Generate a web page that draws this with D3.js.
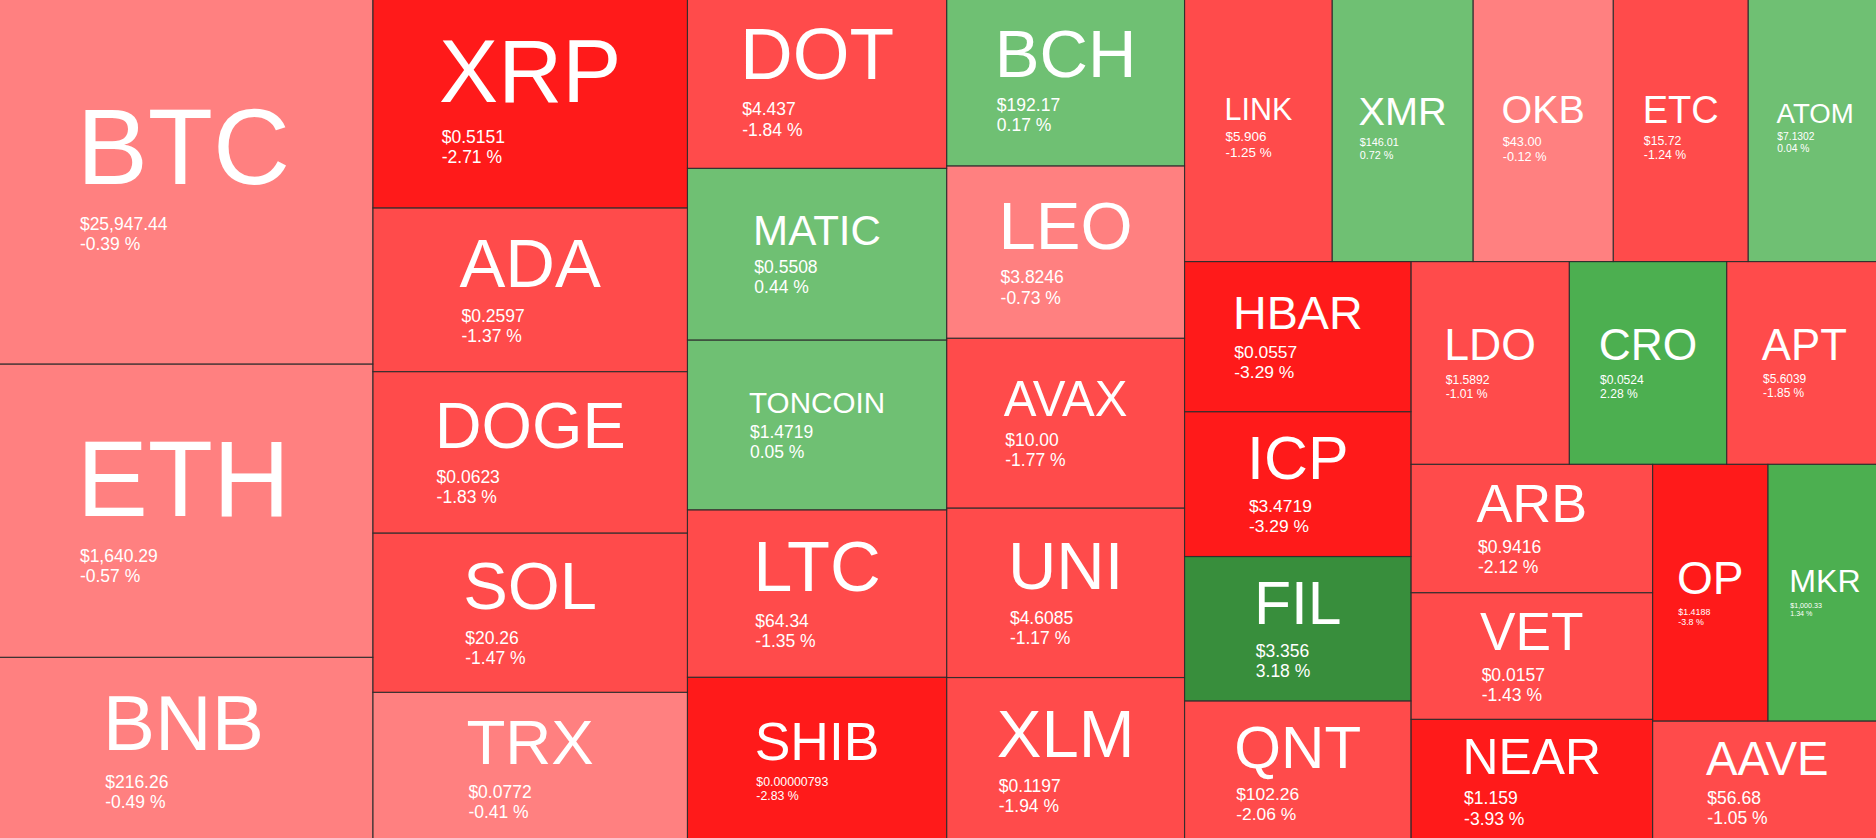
<!DOCTYPE html>
<html>
<head>
<meta charset="utf-8">
<script src="https://cdn.jsdelivr.net/npm/d3@7"></script>
<style>
  html, body { margin: 0; padding: 0; background: #ffffff; overflow: hidden; }
  svg { display: block; }
  text { font-family: "Liberation Sans", Arial, Helvetica, sans-serif; fill: #ffffff; }
</style>
</head>
<body>
<svg id="chart"></svg>
<script>
// ---- data ----
const symbols = ["BTC","ETH","BNB","XRP","ADA","DOGE","SOL","TRX","DOT","MATIC","TONCOIN","LTC","SHIB",
  "BCH","LEO","AVAX","UNI","XLM","LINK","XMR","OKB","ETC","ATOM","HBAR","ICP","FIL","QNT",
  "LDO","CRO","APT","ARB","VET","NEAR","OP","MKR","AAVE"];
const prices = ["$25,947.44","$1,640.29","$216.26","$0.5151","$0.2597","$0.0623","$20.26","$0.0772","$4.437",
  "$0.5508","$1.4719","$64.34","$0.00000793","$192.17","$3.8246","$10.00","$4.6085","$0.1197","$5.906",
  "$146.01","$43.00","$15.72","$7.1302","$0.0557","$3.4719","$3.356","$102.26","$1.5892","$0.0524",
  "$5.6039","$0.9416","$0.0157","$1.159","$1.4188","$1,000.33","$56.68"];
const changes = [-0.39,-0.57,-0.49,-2.71,-1.37,-1.83,-1.47,-0.41,-1.84,0.44,0.05,-1.35,-2.83,
  0.17,-0.73,-1.77,-1.17,-1.94,-1.25,0.72,-0.12,-1.24,0.04,-3.29,-3.29,3.18,-2.06,
  -1.01,2.28,-1.85,-2.12,-1.43,-3.93,-3.8,1.34,-1.05];
// tile weights (relative areas)
const weights = [140.2,111.1,70.7,67.3,51.5,50.8,50.1,47.7,45.2,44.5,44.0,43.4,43.2,
  40.9,41.0,40.4,40.3,39.6,39.5,37.7,37.5,36.1,35.8,34.0,32.8,32.7,32.4,
  32.1,31.9,31.5,31.0,30.6,30.1,29.6,29.3,28.2];
const colorSteps = [-2.5,-1,0,1,2.5];
const colorRange = ["#FF1A1A","#FF4B4B","#FF8080","#6FC073","#4CAF50","#388E3C"];

// ---- chart ----
const W = 1876, H = 838, BLEED = 6;
const svg = d3.select("#chart").attr("width", W).attr("height", H);

const data = symbols.map((s, i) => ({symbol: s, price: prices[i], change: changes[i], weight: weights[i]}));
const root = d3.hierarchy({children: data}).sum(d => d.weight || 0);
d3.treemap().tile(d3.treemapSquarify).size([W + 2 * BLEED, H + 2 * BLEED])(root);
const leaves = root.leaves();

const color = d3.scaleThreshold().domain(colorSteps).range(colorRange);

const g = svg.append("g").attr("transform", `translate(${-BLEED},${-BLEED})`);

g.append("g").selectAll("rect").data(leaves).join("rect")
  .attr("x", d => d.x0).attr("y", d => d.y0)
  .attr("width", d => d.x1 - d.x0).attr("height", d => d.y1 - d.y0)
  .attr("fill", d => color(d.data.change));

g.append("g").selectAll("rect").data(leaves).join("rect")
  .attr("x", d => d.x0).attr("y", d => d.y0)
  .attr("width", d => d.x1 - d.x0).attr("height", d => d.y1 - d.y0)
  .attr("fill", "none")
  .attr("stroke", "#2a2a2a")
  .attr("stroke-opacity", 0.75)
  .attr("stroke-width", 1.1);

const labels = g.append("g").selectAll("g").data(leaves).join("g");
labels.each(function(d) {
  const sel = d3.select(this);
  const w = d.x1 - d.x0, h = d.y1 - d.y0;
  const cx = (d.x0 + d.x1) / 2, cy = (d.y0 + d.y1) / 2;
  const n = d.data.symbol.length;
  const fs = Math.min(w / Math.max(2.5, 1.3 * n - 0.35), 0.42 * h);

  const sym = sel.append("text")
    .attr("x", cx).attr("text-anchor", "middle")
    .attr("font-size", fs).text(d.data.symbol);
  const adv = sym.node().getComputedTextLength();

  const price = sel.append("text").attr("font-size", 100).text(d.data.price);
  const pEm = price.node().getComputedTextLength() / 100;
  const pf = Math.min(17.5, 0.278 * w / pEm);

  const a = 0.27 * fs + 0.95 * pf;
  const L = 1.15 * pf;
  const yS = cy + (0.716 * fs - a - L) / 2;
  const lx = cx - adv / 2 + 0.03 * fs;

  sym.attr("y", yS);
  price.attr("font-size", pf).attr("x", lx).attr("y", yS + a);
  sel.append("text")
    .attr("x", lx).attr("y", yS + a + L)
    .attr("font-size", pf)
    .text(`${d.data.change} %`);
});
</script>
</body>
</html>
